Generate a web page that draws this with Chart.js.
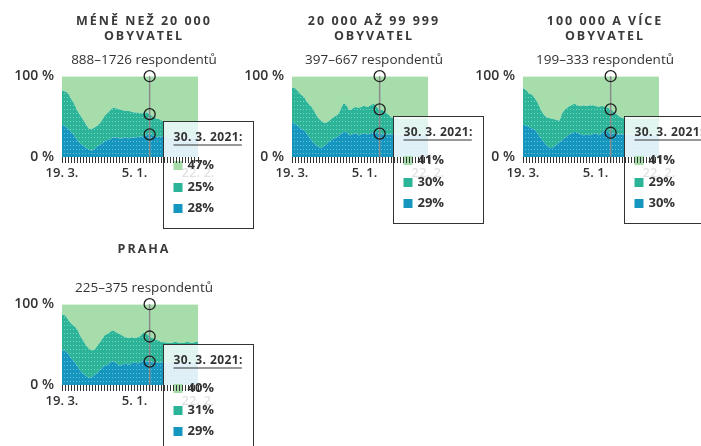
<!DOCTYPE html>
<html><head><meta charset="utf-8">
<script src="https://cdn.jsdelivr.net/npm/chart.js@4"></script>
<style>
html,body{margin:0;padding:0;background:#fff;width:701px;height:446px;overflow:hidden;position:relative}
canvas{position:absolute}
</style></head><body>
<canvas id="c1" width="288" height="232" style="left:0;top:0"></canvas>
<canvas id="c2" width="288" height="232" style="left:230px;top:0"></canvas>
<canvas id="c3" width="288" height="232" style="left:461px;top:0"></canvas>
<canvas id="c4" width="288" height="232" style="left:0;top:228px"></canvas>
<script>
// ---- data ----
const categories = ['1','2','3','4','5','6','7','8','9','10','11','12','13','14','15','16','17','18','19','20','21','22','23','24','25','26','27','28','29','30','31','32','33','34','35','36','37','38','39','40','41','42','43','44','45','46'];
const xTickLabels = ['19. 3.','','','','','','','','','','','','','','','','','','','','','','','','5. 1.','','','','','','','','','','','','','','','','','','','','','22. 2.'];
const yTickLabels = {0: '0 %', 100: '100 %'};
const markIndex = 29;
const markLabel = '30. 3. 2021:';

const titles = [['MÉNĚ NEŽ 20 000','OBYVATEL'], ['20 000 AŽ 99 999','OBYVATEL'], ['100 000 A VÍCE','OBYVATEL'], ['PRAHA','']];
const subtitles = ['888–1726 respondentů', '397–667 respondentů', '199–333 respondentů', '225–375 respondentů'];

const blue1  = [40,38,35,31,27,21,17,14,11,9,8,11,14,16,19,21,22,24,24,23,23,24,23,24,24,25,25,26,27,28,27,25,25,25,25,24,24,25,25,24,24,25,25,24,25,25];
const teal1  = [42,43,44,41,39,37,35,32,29,26,27,26,26,28,31,33,36,37,36,36,35,33,34,32,31,30,29,29,28,25,23,23,22,20,19,20,19,18,19,20,19,18,19,20,19,19];
const light1 = [18,19,21,28,34,42,48,54,60,65,65,63,60,56,50,46,42,39,40,41,42,43,43,44,45,45,46,45,45,47,50,52,53,55,56,56,57,57,56,56,57,57,56,56,56,56];

const blue2  = [42,41,38,35,33,28,23,18,15,12,12,15,18,21,23,25,28,31,31,27,28,29,27,28,29,28,29,31,30,29,28,28,28,28,28,27,27,28,28,27,27,28,28,27,28,28];
const teal2  = [44,44,43,42,41,40,41,41,37,35,32,27,26,26,27,27,30,35,33,31,32,33,34,34,34,34,35,35,32,30,30,27,24,21,20,21,20,19,20,21,20,19,20,21,20,20];
const light2 = [14,15,19,23,26,32,36,41,48,53,56,58,56,53,50,48,42,34,36,42,40,38,39,38,37,38,36,34,38,41,42,45,48,51,52,52,53,53,52,52,53,53,52,52,52,52];

const blue3  = [40,39,37,35,33,28,23,18,14,11,12,15,18,21,24,27,29,31,30,28,27,28,27,28,29,27,29,33,31,30,29,28,28,28,28,28,27,28,28,27,28,28,28,27,28,28];
const teal3  = [45,44,42,42,39,38,35,34,35,37,35,31,27,33,35,35,35,35,34,35,37,35,37,36,34,35,34,29,30,29,27,25,22,20,20,19,20,20,20,20,19,20,20,20,20,20];
const light3 = [15,17,21,23,28,34,42,48,51,52,53,54,55,46,41,38,36,34,36,37,36,37,36,36,37,38,37,38,39,41,44,47,50,52,52,53,53,52,52,53,53,52,52,53,52,52];

const blue4  = [43,42,39,33,29,24,18,14,11,9,10,13,16,20,24,25,28,29,27,24,25,27,25,27,28,27,28,31,29,29,28,28,28,28,28,27,28,28,27,28,28,27,28,28,28,28];
const teal4  = [44,44,42,43,44,45,43,41,38,36,33,32,34,35,37,38,38,38,38,39,36,32,33,32,30,32,33,34,34,31,30,28,27,25,25,25,24,25,26,24,24,26,25,24,25,25];
const light4 = [13,14,19,24,27,31,39,45,51,55,57,55,50,45,39,37,34,33,35,37,39,41,42,41,42,41,39,35,37,40,42,44,45,47,47,48,48,47,47,48,48,47,47,48,47,47];

const panels = [
  {id: 'c1', blue: blue1, teal: teal1, light: light1, title: titles[0], sub: subtitles[0]},
  {id: 'c2', blue: blue2, teal: teal2, light: light2, title: titles[1], sub: subtitles[1]},
  {id: 'c3', blue: blue3, teal: teal3, light: light3, title: titles[2], sub: subtitles[2]},
  {id: 'c4', blue: blue4, teal: teal4, light: light4, title: titles[3], sub: subtitles[3]}
];

// ---- styles ----
const COL_LIGHT = '#a7ddab';
const COL_TEAL = '#2bb497';
const COL_BLUE = '#1596bf';
const TEXT = '#333333';
Chart.defaults.font.family = '"Open Sans", "Noto Sans", sans-serif';
Chart.defaults.color = TEXT;

function dotted(base) {
  const c = document.createElement('canvas');
  c.width = 3; c.height = 4;
  const g = c.getContext('2d');
  g.fillStyle = base; g.fillRect(0, 0, 3, 4);
  g.fillStyle = 'rgba(255,255,255,0.4)'; g.fillRect(1, 1, 1, 1);
  return g.createPattern(c, 'repeat');
}

const spacingPlugin = {
  id: 'spacing',
  beforeDraw(chart) {
    const tb = chart.titleBlock;
    if (tb && !tb._wrapped) {
      const orig = tb.draw;
      tb.draw = function(a) { const c = this.ctx; c.save(); c.letterSpacing = '2px'; orig.call(this, a); c.restore(); };
      tb._wrapped = true;
    }
  }
};

const markerPlugin = {
  id: 'marker',
  afterDatasetsDraw(chart) {
    const {ctx} = chart;
    const x = chart.scales.x, y = chart.scales.y;
    const ds = chart.data.datasets;
    const b = ds[0].data[markIndex], m = ds[1].data[markIndex], t = ds[2].data[markIndex];
    const px = x.getPixelForValue(markIndex);
    const yTop = y.getPixelForValue(b + m + t), yMid = y.getPixelForValue(b + m), yLow = y.getPixelForValue(b);
    ctx.save();
    ctx.strokeStyle = '#8a8a8a'; ctx.lineWidth = 1.5;
    ctx.beginPath(); ctx.moveTo(px, yTop); ctx.lineTo(px, y.bottom + 6); ctx.stroke();
    ctx.strokeStyle = '#1e1e1e'; ctx.lineWidth = 1.3;
    [yTop, yMid, yLow].forEach(cy => { ctx.beginPath(); ctx.arc(px, cy, 5.5, 0, Math.PI * 2); ctx.stroke(); });
    const bx = Math.round(px + 13) + 0.5, by = Math.round(yMid + 7) + 0.5, bw = 90, bh = 107;
    ctx.fillStyle = 'rgba(255,255,255,0.86)'; ctx.fillRect(bx, by, bw, bh);
    ctx.strokeStyle = '#333'; ctx.lineWidth = 1; ctx.strokeRect(bx, by, bw, bh);
    ctx.fillStyle = TEXT; ctx.textBaseline = 'middle'; ctx.textAlign = 'left';
    ctx.font = 'bold 12px "Open Sans"'; ctx.letterSpacing = '0.4px';
    ctx.fillText(markLabel, bx + 10, by + 16);
    const w = ctx.measureText(markLabel).width;
    ctx.fillRect(bx + 10, by + 23, w - 1, 1);
    ctx.letterSpacing = '0px';
    const rows = [[t, COL_LIGHT, 44], [m, COL_TEAL, 66], [b, COL_BLUE, 87]];
    ctx.font = 'bold 13px "Open Sans"';
    rows.forEach(([v, c, dy]) => {
      ctx.fillStyle = c; ctx.fillRect(bx + 10, by + dy - 4.5, 9, 9);
      ctx.fillStyle = TEXT; ctx.fillText(v + '%', bx + 24, by + dy);
    });
    ctx.restore();
  }
};

panels.forEach(p => {
  new Chart(document.getElementById(p.id), {
    type: 'line',
    data: {
      labels: categories,
      datasets: [
        {data: p.blue, backgroundColor: dotted(COL_BLUE), fill: 'origin', borderWidth: 0, pointRadius: 0, tension: 0.3},
        {data: p.teal, backgroundColor: dotted(COL_TEAL), fill: '-1', borderWidth: 0, pointRadius: 0, tension: 0.3},
        {data: p.light, backgroundColor: COL_LIGHT, fill: '-1', borderWidth: 0, pointRadius: 0, tension: 0.3}
      ]
    },
    options: {
      responsive: false, devicePixelRatio: 1, animation: false,
      layout: {padding: {left: 0, right: 0, top: 0, bottom: 45}},
      plugins: {
        legend: {display: false}, tooltip: {enabled: false},
        title: {display: true, text: p.title, color: '#3a3a3a', font: {size: 12.5, weight: 'bold', lineHeight: 1.2}, padding: {top: 14, bottom: 6}},
        subtitle: {display: true, text: p.sub, color: TEXT, font: {size: 13.5, weight: 'normal', lineHeight: 1.2}, padding: {top: 2, bottom: 8}}
      },
      scales: {
        x: {
          type: 'category', offset: false,
          grid: {display: true, drawOnChartArea: false, drawTicks: true, tickLength: 6, color: '#333', lineWidth: 1, z: 1},
          border: {display: false},
          ticks: {autoSkip: false, maxRotation: 0, minRotation: 0, padding: 2, color: TEXT, font: {size: 13, weight: '600'},
                  callback: (v, i) => xTickLabels[i]},
          afterFit: s => { s.height = 30; }
        },
        y: {
          stacked: true, min: 0, max: 100,
          grid: {display: false, drawTicks: false}, border: {display: false},
          ticks: {stepSize: 100, padding: 8, color: TEXT, font: {size: 14, weight: '600'}, callback: v => yTickLabels[v]},
          afterFit: s => { s.width = 62; }
        },
        r: {
          type: 'linear', position: 'right', display: true,
          grid: {display: false, drawTicks: false}, border: {display: false}, ticks: {display: false},
          afterFit: s => { s.width = 90; }
        }
      }
    },
    plugins: [spacingPlugin, markerPlugin]
  });
});
</script>
</body></html>
